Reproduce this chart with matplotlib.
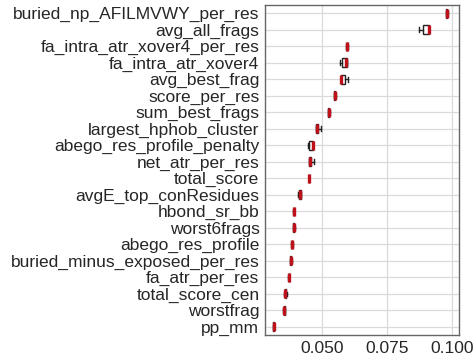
import matplotlib
matplotlib.use("Agg")
import matplotlib.pyplot as plt

features = [
    "buried_np_AFILMVWY_per_res", "avg_all_frags", "fa_intra_atr_xover4_per_res",
    "fa_intra_atr_xover4", "avg_best_frag", "score_per_res", "sum_best_frags",
    "largest_hphob_cluster", "abego_res_profile_penalty", "net_atr_per_res",
    "total_score", "avgE_top_conResidues", "hbond_sr_bb", "worst6frags",
    "abego_res_profile", "buried_minus_exposed_per_res", "fa_atr_per_res",
    "total_score_cen", "worstfrag", "pp_mm",
]
# five-number summaries of the importance scores per feature
whisker_low = [0.0976, 0.0873, 0.0594, 0.0568, 0.0573, 0.0545, 0.0522, 0.0476, 0.0445, 0.0450,
               0.0450, 0.0408, 0.0390, 0.0389, 0.0383, 0.0377, 0.0371, 0.0356, 0.0351, 0.0312]
q1 =          [0.0978, 0.0889, 0.0596, 0.0577, 0.0573, 0.0547, 0.0524, 0.0478, 0.0451, 0.0452,
               0.0451, 0.0411, 0.0391, 0.0390, 0.0384, 0.0379, 0.0372, 0.0358, 0.0353, 0.0313]
median =      [0.0981, 0.0912, 0.0597, 0.0593, 0.0575, 0.0549, 0.0526, 0.0481, 0.0464, 0.0455,
               0.0451, 0.0415, 0.0392, 0.0392, 0.0385, 0.0381, 0.0373, 0.0360, 0.0355, 0.0314]
q3 =          [0.0983, 0.0914, 0.0598, 0.0595, 0.0589, 0.0551, 0.0528, 0.0484, 0.0465, 0.0458,
               0.0452, 0.0418, 0.0393, 0.0394, 0.0386, 0.0383, 0.0374, 0.0362, 0.0357, 0.0315]
whisker_high = [0.0985, 0.0914, 0.0600, 0.0595, 0.0600, 0.0553, 0.0530, 0.0498, 0.0465, 0.0470,
                0.0452, 0.0420, 0.0394, 0.0398, 0.0387, 0.0385, 0.0375, 0.0364, 0.0359, 0.0316]
x_ticks = [0.050, 0.075, 0.100]

plt.rcParams["font.family"] = ["Liberation Sans", "DejaVu Sans"]

fig = plt.figure(figsize=(4.74, 3.58), dpi=100)
ax = fig.add_axes([0.559, 0.064, 0.409, 0.922])

stats = []
for name, lo, a, m, b, hi in zip(features, whisker_low, q1, median, q3, whisker_high):
    stats.append(dict(label=name, whislo=lo, q1=a, med=m, q3=b, whishi=hi, fliers=[]))

positions = list(range(len(features)))
ax.bxp(stats, positions=positions, vert=False, widths=0.56, patch_artist=True,
       showfliers=False,
       boxprops=dict(facecolor="white", edgecolor="#222222", linewidth=1.0),
       medianprops=dict(color="#c0101a", linewidth=2.4),
       whiskerprops=dict(color="#222222", linewidth=1.0),
       capprops=dict(color="#222222", linewidth=1.0),
       zorder=3)

ax.set_ylim(len(features) - 0.5, -0.5)
ax.set_xlim(0.0281, 0.1027)
ax.set_xticks(x_ticks)
ax.set_xticklabels([f"{t:.3f}" for t in x_ticks])
ax.set_yticks(positions)
ax.set_yticklabels(features)

ax.grid(True, color="#dadada", linewidth=0.9, zorder=0)
ax.set_axisbelow(True)
for s in ax.spines.values():
    s.set_color("#666666")
    s.set_linewidth(1.0)
ax.tick_params(axis="both", length=0, labelsize=12.5, colors="#262626", pad=4)

fig.savefig("out.png", dpi=100)
